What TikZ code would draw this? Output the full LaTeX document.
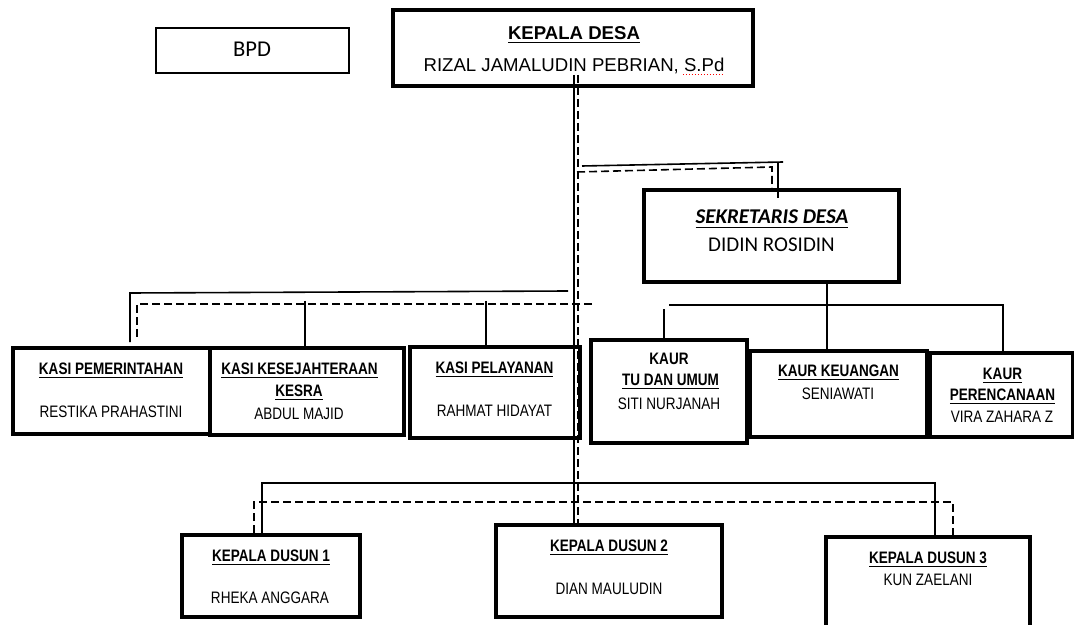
\documentclass[tikz,border=0pt]{standalone}
\usepackage{fontspec}
\setmainfont{Liberation Sans}
\newfontfamily\narrowfont{Liberation Sans}[FakeStretch=0.815]
\newfontfamily\calibrifont{Carlito}
\usetikzlibrary{fit}

\begin{document}
\begin{tikzpicture}[x=0.5pt, y=-0.5pt,
  box/.style={draw, line width=2pt, inner sep=0pt},
  thinbox/.style={draw, line width=0.8pt, inner sep=0pt},
  link/.style={line width=0.8pt},
  dlink/.style={line width=0.8pt, dash pattern=on 4pt off 2pt},
  jabatan/.style={anchor=base, inner sep=0pt, font=\narrowfont\fontsize{8.3}{10}\selectfont\bfseries},
  nama/.style={anchor=base, inner sep=0pt, font=\narrowfont\fontsize{8.3}{10}\selectfont}]
\clip (0,0) rectangle (1074,625);

% boxes
\node[thinbox, fit={(156,28) (349,73)}] (bpd) {};
\node[box, fit={(393,10) (753,86)}] (kades) {};
\node[box, fit={(644,190) (899,282)}] (sekdes) {};
\node[box, fit={(13,348) (210,434)}] (kasi1) {};
\node[box, fit={(210,348) (404,435)}] (kasi2) {};
\node[box, fit={(410,347) (580,438)}] (kasi3) {};
\node[box, fit={(591,340) (747,443)}] (kaur1) {};
\node[box, fit={(750,351) (927,437)}] (kaur2) {};
\node[box, fit={(930,353) (1073,437)}] (kaur3) {};
\node[box, fit={(182,535) (360,617)}] (dusun1) {};
\node[box, fit={(496,525) (722,617)}] (dusun2) {};
\node[box, fit={(826,537) (1030,650)}] (dusun3) {};

% texts
\node[anchor=base, inner sep=0pt, font=\calibrifont\fontsize{11.3}{13}\selectfont] (bpdt) at (252,57) {BPD};
\node[anchor=base, inner sep=0pt, font=\fontsize{9.3}{11}\selectfont\bfseries] (kadesh) at (574,39.7) {\underline{KEPALA DESA}};
\node[anchor=base, inner sep=0pt, font=\fontsize{9.3}{11}\selectfont] (kadesn) at (574,71.7) {RIZAL JAMALUDIN PEBRIAN, S.Pd};
\node[anchor=base, inner sep=0pt, font=\calibrifont\fontsize{10.5}{12}\selectfont\bfseries\itshape] (sekdesh) at (772,224) {\underline{SEKRETARIS DESA}};
\node[anchor=base, inner sep=0pt, font=\calibrifont\fontsize{10.5}{12}\selectfont] (sekdesn) at (771.5,252) {DIDIN ROSIDIN};

\node[jabatan] (kasi1h) at (111,374) {\underline{KASI PEMERINTAHAN}};
\node[nama] (kasi1n) at (111,417) {RESTIKA PRAHASTINI};
\node[jabatan] (kasi2h) at (299.5,374) {\underline{KASI KESEJAHTERAAN}};
\node[jabatan] (kasi2k) at (299,396) {\underline{KESRA}};
\node[nama] (kasi2n) at (299,419) {ABDUL MAJID};
\node[jabatan] (kasi3h) at (494.5,373) {\underline{KASI PELAYANAN}};
\node[nama] (kasi3n) at (494.5,416) {RAHMAT HIDAYAT};

\node[jabatan] (kaur1a) at (669,364) {KAUR};
\node[jabatan] (kaur1h) at (670.5,385) {\underline{TU DAN UMUM}};
\node[nama] (kaur1n) at (669,409) {SITI NURJANAH};
\node[jabatan] (kaur2h) at (838.5,376) {\underline{KAUR KEUANGAN}};
\node[nama] (kaur2n) at (838,399) {SENIAWATI};
\node[jabatan] (kaur3a) at (1002.5,379) {\underline{KAUR}};
\node[jabatan] (kaur3h) at (1002.5,400) {\underline{PERENCANAAN}};
\node[nama] (kaur3n) at (1002,422) {VIRA ZAHARA Z};

\node[jabatan] (dusun1h) at (271,561) {\underline{KEPALA DUSUN 1}};
\node[nama] (dusun1n) at (270,603) {RHEKA ANGGARA};
\node[jabatan] (dusun2h) at (609,551) {\underline{KEPALA DUSUN 2}};
\node[nama] (dusun2n) at (609,594) {DIAN MAULUDIN};
\node[jabatan] (dusun3h) at (928,563) {\underline{KEPALA DUSUN 3}};
\node[nama] (dusun3n) at (928,585) {KUN ZAELANI};

% spelling mark under S.Pd
\draw[red, line width=0.5pt, densely dotted] (kadesn.base east) ++(-42,3) -- ++(40,0);

% main double line
\coordinate (top1) at (574,75);
\coordinate (top2) at (578,75);
\draw[link] (top1) -- (top1 |- dusun2.north);
\draw[dlink] (top2) -- (top2 |- dusun2.north);

% to sekretaris
\coordinate (s1) at (582,166);
\coordinate (s2) at (783,162);
\coordinate (s3) at (577,172);
\coordinate (s4) at (772,167);
\draw[link] (s1) -- (s2);
\draw[link] (778,162) -- (778,198);
\draw[dlink] (s3) -- (s4) -- (s4 |- sekdes.north);

% kasi
\coordinate (k1) at (568,291);
\coordinate (k2) at (130,293);
\coordinate (k3) at (592,304);
\coordinate (k4) at (137,304);
\draw[link] (k1) -- (k2) -- (130,342);
\draw[dlink] (k3) -- (k4) -- (137,337);
\foreach \x/\y in {305/kasi2, 486/kasi3}
  \draw[link] (\x,301) -- (\x,301 |- \y.north);

% kaur
\coordinate (u1) at (669,305);
\coordinate (u2) at (1003,305);
\draw[link] (827,282) -- (827,282 |- kaur2.north);
\draw[link] (u1) -- (u2) -- (u2 |- kaur3.north);
\draw[link] (664,309) -- (664,309 |- kaur1.north);

% dusun
\coordinate (d1) at (262,483);
\coordinate (d2) at (935,483);
\coordinate (d3) at (254,502);
\coordinate (d4) at (953,502);
\draw[link] (d1 |- dusun1.north) -- (d1) -- (d2) -- (d2 |- dusun3.north);
\draw[dlink] (254,533) -- (d3) -- (d4) -- (953,535);
\end{tikzpicture}
\end{document}
